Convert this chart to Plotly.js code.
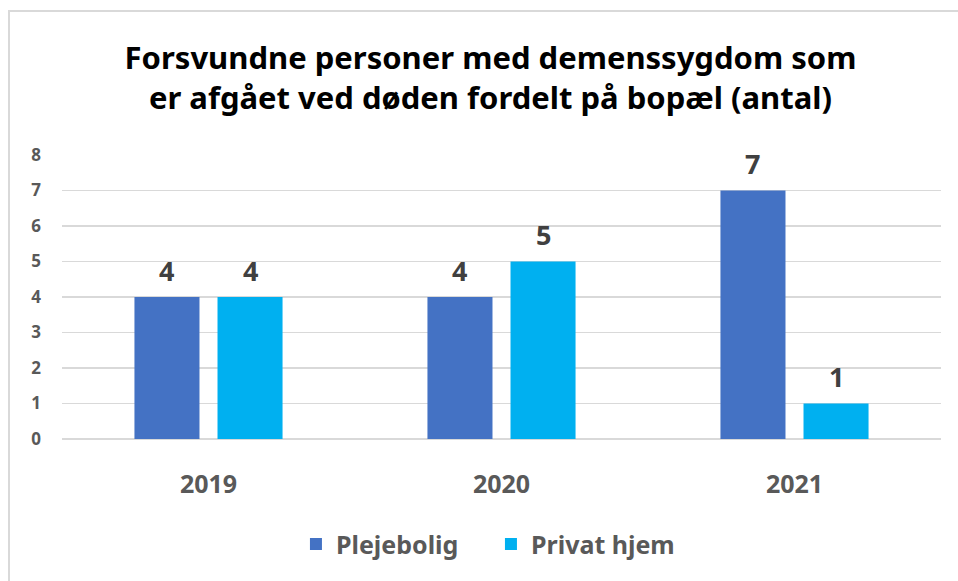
<!DOCTYPE html>
<html>
<head>
<meta charset="utf-8">
<script src="https://cdn.plot.ly/plotly-3.0.1.min.js"></script>
<style>
  html, body { margin: 0; padding: 0; background: #fff; }
  #frame { position: absolute; left: 8px; top: 10px; width: 1000px; height: 700px; border-left: 2px solid #d9d9d9; border-top: 2px solid #d9d9d9; }
  #chart { position: absolute; left: 0; top: 0; width: 958px; height: 581px; }
</style>
</head>
<body>
<div id="frame"></div>
<div id="chart"></div>
<script>
const categories = ["2019", "2020", "2021"];
const seriesNames = ["Plejebolig", "Privat hjem"];
const plejebolig = [4, 4, 7];
const privatHjem = [4, 5, 1];
const titleLines = ["Forsvundne personer med demenssygdom som", "er afgået ved døden fordelt på bopæl (antal)"];
const yTicks = [0, 1, 2, 3, 4, 5, 6, 7, 8];

const colors = ["#4472C4", "#00B0F0"];
const FONT = "Noto Sans, DejaVu Sans, sans-serif";
const seriesValues = [plejebolig, privatHjem];

const traces = seriesValues.map((vals, i) => ({
  type: "bar",
  name: seriesNames[i],
  x: categories,
  y: vals,
  marker: { color: colors[i] },
  hoverinfo: "skip"
}));

const bargap = 0.433, bargroupgap = 0.217;
const plotLeft = 62, plotRight = 941;
const catWidth = (plotRight - plotLeft) / categories.length;
const slot = catWidth * (1 - bargap) / 2;

const annotations = [];
seriesValues.forEach((vals, i) => {
  vals.forEach((v, j) => {
    annotations.push({
      x: j, y: v, xref: "x", yref: "y",
      text: String(v), showarrow: false,
      xshift: (i === 0 ? -1 : 1) * slot / 2,
      yshift: 27,
      font: { family: FONT, size: 27, color: "#404040", weight: 700 }
    });
  });
});

const layout = {
  width: 958, height: 581,
  paper_bgcolor: "rgba(0,0,0,0)",
  plot_bgcolor: "rgba(0,0,0,0)",
  margin: { l: plotLeft, r: 958 - plotRight, t: 155, b: 142 },
  title: {
    text: "<b>" + titleLines.join("<br>") + "</b>",
    x: 0.512, xanchor: "center",
    yref: "container",
    y: 1 - 69 / 581, yanchor: "middle",
    font: { family: FONT, size: 31, color: "#000000" }
  },
  barmode: "group",
  bargap: bargap,
  bargroupgap: bargroupgap,
  xaxis: {
    type: "category",
    range: [-0.5, categories.length - 0.5],
    autorange: false,
    showgrid: false,
    showline: false,
    ticks: "",
    ticklabelstandoff: 28,
    tickfont: { family: FONT, size: 25, color: "#595959", weight: 700 }
  },
  yaxis: {
    range: [0, 8],
    autorange: false,
    tickvals: yTicks,
    ticktext: yTicks.map(String),
    showgrid: true,
    gridcolor: "#d9d9d9",
    gridwidth: 1.5,
    zeroline: true,
    zerolinecolor: "#d9d9d9",
    zerolinewidth: 1.5,
    showline: false,
    ticks: "",
    ticklabelstandoff: 20,
    tickfont: { family: FONT, size: 17, color: "#595959", weight: 700 }
  },
  showlegend: true,
  legend: {
    orientation: "h",
    x: 0.488, xanchor: "center",
    y: -0.29, yanchor: "top",
    font: { family: FONT, size: 25, color: "#595959", weight: 700 },
    itemwidth: 30,
    entrywidth: 150,
    entrywidthmode: "pixels",
    traceorder: "normal"
  },
  annotations: annotations
};

Plotly.newPlot("chart", traces, layout, { displayModeBar: false, staticPlot: true });
</script>
</body>
</html>
